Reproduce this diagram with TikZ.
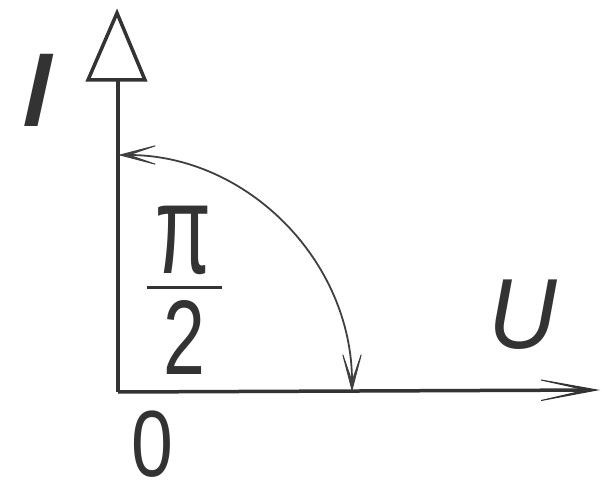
\documentclass[tikz,border=0pt]{standalone}
\usepackage{fontspec}
\setmainfont{Liberation Sans}
\newfontfamily\slbold[FakeSlant=0.25]{Liberation Sans Bold}
\usetikzlibrary{arrows.meta}
\tikzset{
  arctip/.tip={Stealth[length=50pt,width=26pt,inset=38pt,line width=1pt]},
  axtip/.tip={Stealth[length=82pt,width=30pt,inset=66pt,line width=1pt]}}
\begin{document}
\begin{tikzpicture}[x=1pt,y=-1pt,
  axis/.style={line width=3.5pt, draw=black!80},
  arcline/.style={line width=1.8pt, draw=black!75},
  lbl/.style={inner sep=0pt, text=black!80}]
\useasboundingbox (0,0) rectangle (602,486);
\coordinate (O) at (118,392);
\coordinate (Ytop) at (118,80);
\coordinate (Xend) at (600,390);
\coordinate (A) at (118,155);
% vertical axis with open triangle head
\draw[axis] (O) -- (Ytop);
\draw[axis, line join=miter] (88,80) -- (117,13) -- (145,80) -- cycle;
% horizontal axis with barbed head
\draw[axis, -{axtip}] (O) -- (Xend);
% arc with arrows at both ends
\draw[arcline, {arctip}-{arctip}]
  (A) arc[start angle=-90, end angle=0, x radius=234, y radius=237];
% labels
\node[lbl, font=\fontsize{105}{105}\slbold, xscale=0.88] (I) at (31,90) {I};
\node[lbl, font=\fontsize{95}{95}\selectfont\itshape, yscale=1.05] (U) at (523,315) {U};
\node[lbl, font=\fontsize{88}{88}\selectfont, yscale=1.45, xscale=0.92] (pi) at (183,240) {π};
\draw[line width=3pt, draw=black!80] (147,287) -- (222,287);
\node[lbl, font=\fontsize{106}{106}\selectfont, xscale=0.71] (two) at (184,337) {2};
\node[lbl, font=\fontsize{94}{94}\selectfont, xscale=0.8] (zero) at (152,444) {0};
\end{tikzpicture}
\end{document}
